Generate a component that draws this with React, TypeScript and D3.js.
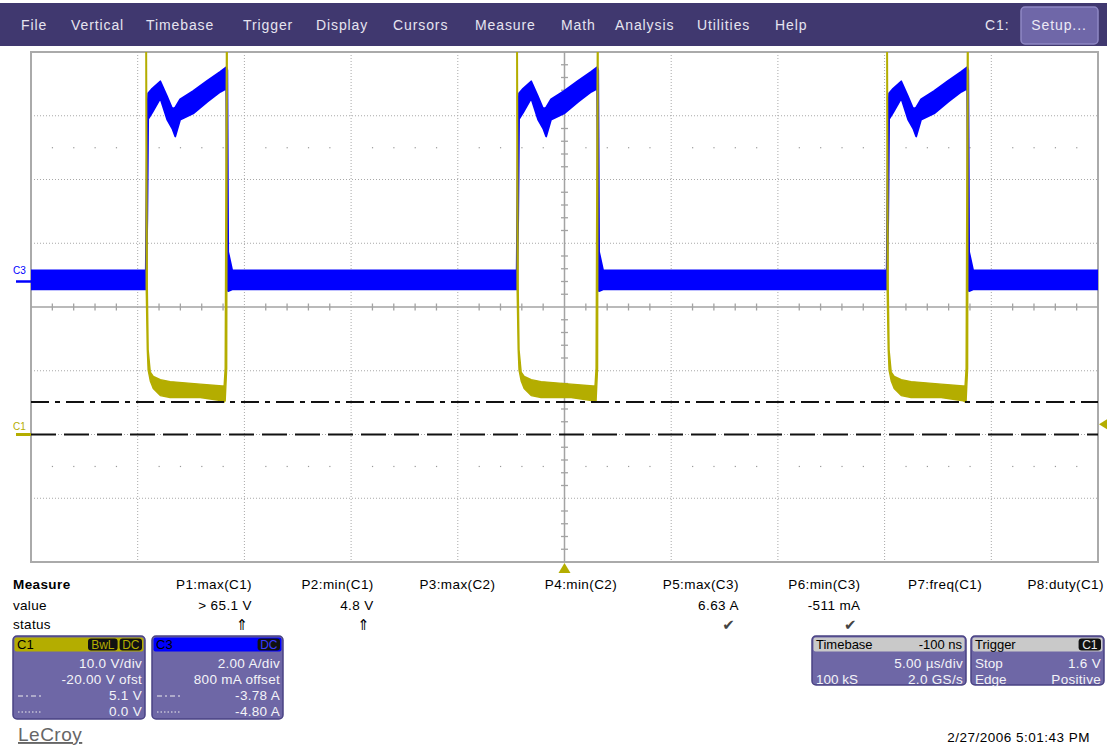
import * as d3 from 'd3';

// menu bar
const menuItems = ['File', 'Vertical', 'Timebase', 'Trigger', 'Display', 'Cursors', 'Measure', 'Math', 'Analysis', 'Utilities', 'Help'];
const menuX = [21, 71, 146, 243, 316, 393, 475, 561, 615, 697, 775];

// screen scales: 5 µs/div, C1 10 V/div -20 V ofst, C3 2 A/div 800 mA offset
const timeDomain: [number, number] = [-25, 25];
const c1Domain: [number, number] = [-20, 60];
const c3Domain: [number, number] = [-8.8, 7.2];

// rising edge of C3 / falling edge of C1 for each pulse (µs)
const pulseStarts = [-19.6, -2.22, 15.12];

// C3 trace envelope: [t µs, low A, high A]
const c3Base: [number, number] = [-0.25, 0.35];
const c3Pulse: [number, number, number][] = [
    [-0.02, -0.25, 0.35],
    [0.0, -0.25, 2.0],
    [0.05, 2.0, 5.3],
    [0.09, 5.1, 5.9],
    [0.28, 5.3, 6.05],
    [0.66, 5.75, 6.28],
    [0.98, 5.08, 5.8],
    [1.22, 4.8, 5.42],
    [1.36, 4.55, 5.46],
    [1.59, 5.08, 5.72],
    [2.2, 5.27, 5.98],
    [2.86, 5.64, 6.3],
    [3.47, 5.95, 6.58],
    [3.75, 6.05, 6.72],
    [3.8, -0.25, 6.63],
    [3.84, -0.3, 0.93],
    [4.03, -0.25, 0.35],
];

// C1 trace envelope: [t µs, low V, high V]; off-screen when high
const c1High = 70;
const c1Pulse: [number, number, number][] = [
    [-0.02, 70, 70],
    [0.0, 23, 70],
    [0.05, 13.3, 23],
    [0.09, 10.1, 13.3],
    [0.19, 8.4, 9.8],
    [0.33, 7.2, 9.1],
    [0.66, 6.1, 8.6],
    [1.12, 5.8, 8.3],
    [2.53, 5.8, 7.9],
    [3.56, 5.3, 7.6],
    [3.65, 5.1, 7.6],
    [3.7, 5.3, 10.4],
    [3.77, 10.4, 70],
    [3.8, 70, 70],
];

const cursorVolts = [5.1, 0.0];
const triggerVolts = 1.6;

const measureNames = ['P1:max(C1)', 'P2:min(C1)', 'P3:max(C2)', 'P4:min(C2)', 'P5:max(C3)', 'P6:min(C3)', 'P7:freq(C1)', 'P8:duty(C1)'];
const measureValues = ['> 65.1 V', '4.8 V', '', '', '6.63 A', '-511 mA', '', ''];
const measureStatus = ['\u21D1', '\u21D1', '', '', '\u2714', '\u2714', '', ''];

const c1Rows = [['', '10.0 V/div'], ['', '-20.00 V ofst'], ['dashdot', '5.1 V'], ['dot', '0.0 V']];
const c3Rows = [['', '2.00 A/div'], ['', '800 mA offset'], ['dashdot', '-3.78 A'], ['dot', '-4.80 A']];
const timebaseRows = [['', '5.00 \u00B5s/div'], ['100 kS', '2.0 GS/s']];
const triggerRows = [['Stop', '1.6 V'], ['Edge', 'Positive']];

const FONT = 'Liberation Sans, Arial, sans-serif';
const YELLOW = '#b4ad00';
const BLUE = '#0000ff';

function Box({ x, y, w, h, headerFill, title, headerRight, badges, badgeColor, rows }: any) {
    let bx = x + w - 3;
    const badgeEls = (badges || []).slice().reverse().map((b: string) => {
        const bw = 8 + b.length * 7.2;
        bx -= bw;
        const el = (
            <g key={b}>
                <rect x={bx} y={y + 2.5} width={bw} height={12} rx={3} fill="#111" />
                <text x={bx + bw / 2} y={y + 12.5} textAnchor="middle" fontSize={12} fill={badgeColor}>{b}</text>
            </g>
        );
        bx -= 2;
        return el;
    });
    return (
        <g fontFamily={FONT}>
            <rect x={x} y={y} width={w} height={h} rx={4} fill="#6e67a6" stroke="#4a4384" strokeWidth={1.5} />
            <rect x={x + 1.5} y={y + 1.5} width={w - 3} height={14} rx={2} fill={headerFill} />
            <text x={x + 4} y={y + 13} fontSize={13} fill="#000">{title}</text>
            {headerRight && <text x={x + w - 4} y={y + 13} fontSize={13} textAnchor="end" fill="#000">{headerRight}</text>}
            {badgeEls}
            {rows.map((r: string[], i: number) => {
                const cy = y + 27 + 16 * i;
                let left: any = null;
                if (r[0] === 'dashdot') {
                    left = <line x1={x + 5} x2={x + 28} y1={cy + 1} y2={cy + 1} stroke="#eee" strokeDasharray="5,3,2,3" />;
                } else if (r[0] === 'dot') {
                    left = <line x1={x + 5} x2={x + 28} y1={cy + 1} y2={cy + 1} stroke="#eee" strokeDasharray="1.5,2" />;
                } else if (r[0]) {
                    left = <text x={x + 4} y={cy + 5} fontSize={13.5} fill="#f4f4f8">{r[0]}</text>;
                }
                return (
                    <g key={i}>
                        {left}
                        <text x={x + w - 3} y={cy + 5} fontSize={13.5} textAnchor="end" fill="#f4f4f8" letterSpacing={0.3}>{r[1]}</text>
                    </g>
                );
            })}
        </g>
    );
}

export default function App() {
    const W = 1107, H = 746;
    const L = 31, R = 1098, T = 52, B = 562;

    const x = d3.scaleLinear().domain(timeDomain).range([L, R]);
    const yV = d3.scaleLinear().domain(c1Domain).range([B, T]);
    const yI = d3.scaleLinear().domain(c3Domain).range([B, T]);

    const c3Points: [number, number, number][] = [
        [timeDomain[0], c3Base[0], c3Base[1]],
        ...pulseStarts.flatMap(s => c3Pulse.map(([dt, lo, hi]) => [s + dt, lo, hi] as [number, number, number])),
        [timeDomain[1], c3Base[0], c3Base[1]],
    ];
    const c1Points: [number, number, number][] = [
        [timeDomain[0], c1High, c1High],
        ...pulseStarts.flatMap(s => c1Pulse.map(([dt, lo, hi]) => [s + dt, lo, hi] as [number, number, number])),
        [timeDomain[1], c1High, c1High],
    ];

    const c3Area = d3.area<[number, number, number]>()
        .x(d => x(d[0])).y0(d => yI(d[1])).y1(d => yI(d[2]));
    const c1Area = d3.area<[number, number, number]>()
        .x(d => x(d[0])).y0(d => yV(d[1])).y1(d => yV(d[2]));

    const centerV = (c1Domain[0] + c1Domain[1]) / 2;
    const vGrid = d3.range(-20, 21, 5).filter(v => v !== 0);
    const hGrid = d3.range(-10, 51, 10).filter(v => v !== centerV);
    const hTicks = d3.range(-24, 25, 1).filter(v => v % 5 !== 0);
    const vTicks = d3.range(-18, 60, 2).filter(v => v % 10 !== 0);
    const dotRows = [centerV + 25, centerV - 25];

    const colRight = (i: number) => 252 + i * 121.7;

    return (
        <svg width={W} height={H} style={{ position: 'absolute', left: 0, top: 0, background: '#fff' }} fontFamily={FONT}>
            <defs>
                <clipPath id="plotClip">
                    <rect x={L} y={T} width={R - L} height={B - T} />
                </clipPath>
            </defs>

            {/* menu bar */}
            <rect x={0} y={3} width={W} height={43} fill="#40386f" />
            {menuItems.map((m, i) => (
                <text key={m} x={menuX[i]} y={30} fontSize={14} fill="#e6e4f0" letterSpacing={0.9}>{m}</text>
            ))}
            <text x={985} y={30} fontSize={14} fill="#e6e4f0" letterSpacing={0.9}>C1:</text>
            <rect x={1021} y={7} width={77} height={37} rx={4} fill="#6f67a8" stroke="#8f88c4" strokeWidth={1.5} />
            <text x={1059} y={30} fontSize={14} fill="#eceaf6" textAnchor="middle" letterSpacing={0.9}>Setup...</text>

            {/* grid */}
            <rect x={L} y={T} width={R - L} height={B - T} fill="#fff" stroke="#aaa" strokeWidth={2} />
            {vGrid.map(t => (
                <line key={'v' + t} x1={x(t)} x2={x(t)} y1={T} y2={B} stroke="#a8a8a8" strokeDasharray="1,2" />
            ))}
            {hGrid.map(v => (
                <line key={'h' + v} x1={L} x2={R} y1={yV(v)} y2={yV(v)} stroke="#a8a8a8" strokeDasharray="1,2" />
            ))}
            {dotRows.map(v => hTicks.map(t => (
                <rect key={'d' + v + '_' + t} x={x(t) - 0.5} y={yV(v) - 0.5} width={1.2} height={1.2} fill="#999" />
            )))}
            <line x1={L} x2={R} y1={yV(centerV)} y2={yV(centerV)} stroke="#a3a3a3" strokeWidth={1.5} />
            <line x1={x(0)} x2={x(0)} y1={T} y2={B} stroke="#a3a3a3" strokeWidth={1.5} />
            {hTicks.map(t => (
                <line key={'ht' + t} x1={x(t)} x2={x(t)} y1={yV(centerV) - 3.5} y2={yV(centerV) + 3.5} stroke="#a3a3a3" strokeWidth={1.3} />
            ))}
            {vTicks.map(v => (
                <line key={'vt' + v} x1={x(0) - 3.5} x2={x(0) + 3.5} y1={yV(v)} y2={yV(v)} stroke="#a3a3a3" strokeWidth={1.3} />
            ))}

            {/* traces */}
            <g clipPath="url(#plotClip)">
                <path d={c3Area(c3Points) || ''} fill={BLUE} stroke={BLUE} strokeWidth={1.8} strokeLinejoin="round" />
                <path d={c1Area(c1Points) || ''} fill={YELLOW} stroke={YELLOW} strokeWidth={1.4} strokeLinejoin="round" />
                <line x1={L} x2={R} y1={yV(cursorVolts[0])} y2={yV(cursorVolts[0])} stroke="#111" strokeWidth={1.8} strokeDasharray="18,6,5,6" />
                <line x1={L} x2={R} y1={yV(cursorVolts[1])} y2={yV(cursorVolts[1])} stroke="#111" strokeWidth={1.8} strokeDasharray="25,8" />
            </g>

            {/* channel markers */}
            <text x={13} y={274} fontSize={10} fill={BLUE}>C3</text>
            <line x1={16} x2={L} y1={yI(0)} y2={yI(0)} stroke={BLUE} strokeWidth={2.5} />
            <text x={13} y={430} fontSize={10} fill={YELLOW}>C1</text>
            <line x1={16} x2={L} y1={yV(0)} y2={yV(0)} stroke={YELLOW} strokeWidth={3} />
            <path d={`M${R + 1},${yV(triggerVolts)} L${W},${yV(triggerVolts) - 5} L${W},${yV(triggerVolts) + 5} Z`} fill={YELLOW} />
            <path d={`M${x(0)},${B + 1} L${x(0) - 6},${B + 11} L${x(0) + 6},${B + 11} Z`} fill={YELLOW} />

            {/* measure table */}
            <text x={13} y={589} fontSize={13.5} fontWeight="bold" fill="#000" letterSpacing={0.4}>Measure</text>
            <text x={13} y={610} fontSize={13.5} fill="#000" letterSpacing={0.3}>value</text>
            <text x={13} y={629} fontSize={13.5} fill="#000" letterSpacing={0.3}>status</text>
            {measureNames.map((n, i) => (
                <g key={n}>
                    <text x={colRight(i)} y={589} fontSize={13.5} textAnchor="end" fill="#000" letterSpacing={0.4}>{n}</text>
                    <text x={colRight(i)} y={610} fontSize={13.5} textAnchor="end" fill="#000" letterSpacing={0.4}>{measureValues[i]}</text>
                    <text x={colRight(i) - 4} y={630} fontSize={15} textAnchor="end" fill={measureStatus[i] === '\u2714' ? '#444' : '#000'} fontFamily="DejaVu Sans, sans-serif">{measureStatus[i]}</text>
                </g>
            ))}

            {/* channel, timebase and trigger boxes */}
            <Box x={13} y={636} w={132} h={83} headerFill={YELLOW} title="C1" badges={['BwL', 'DC']} badgeColor={YELLOW} rows={c1Rows} />
            <Box x={152} y={636} w={131} h={83} headerFill={BLUE} title="C3" badges={['DC']} badgeColor="#3a3aff" rows={c3Rows} />
            <Box x={812} y={636} w={154} h={49} headerFill="#c9c9c9" title="Timebase" headerRight="-100 ns" rows={timebaseRows} />
            <Box x={971} y={636} w={133} h={49} headerFill="#c9c9c9" title="Trigger" badges={['C1']} badgeColor="#e8e8e8" rows={triggerRows} />

            {/* footer */}
            <text x={18} y={741} fontSize={19} fill="#666" textDecoration="underline" letterSpacing={0.5}>LeCroy</text>
            <text x={1090} y={742} fontSize={13.5} textAnchor="end" fill="#000" letterSpacing={0.5}>2/27/2006 5:01:43 PM</text>
        </svg>
    );
}
